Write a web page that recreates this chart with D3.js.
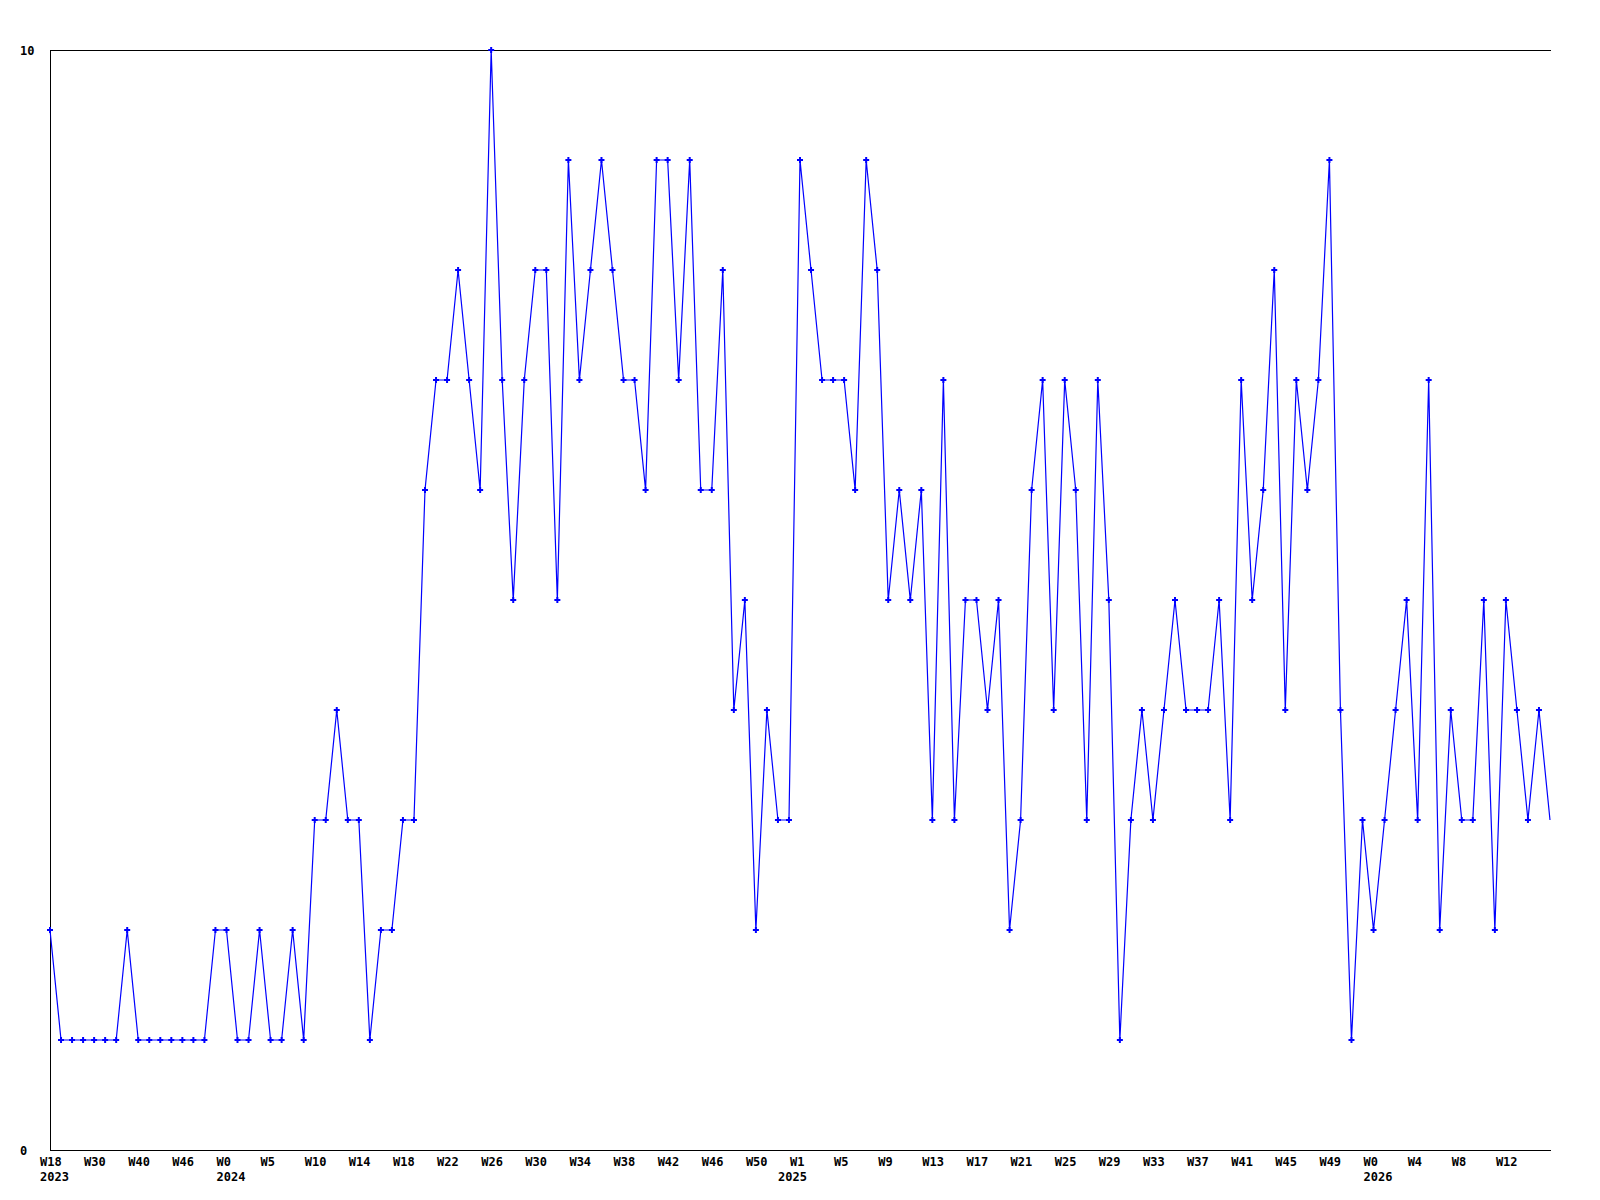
<!DOCTYPE html>
<html>
<head>
<meta charset="utf-8">
<script src="https://cdn.jsdelivr.net/npm/d3@7"></script>
<style>
  html, body { margin: 0; padding: 0; background: #fff; }
  svg { display: block; }
  text { font-family: "DejaVu Sans Mono", "Liberation Mono", monospace; font-weight: bold; font-size: 12px; fill: #000; }
</style>
</head>
<body>
<svg id="chart" width="1600" height="1200"></svg>
<script>
// Weekly values, one per point (137 points)
const values = [
  2, 1, 1, 1, 1, 1, 1, 2, 1, 1, 1, 1, 1, 1, 1, 2, 2, 1, 1, 2,
  1, 1, 2, 1, 3, 3, 4, 3, 3, 1, 2, 2, 3, 3, 6, 7, 7, 8, 7, 6,
  10, 7, 5, 7, 8, 8, 5, 9, 7, 8, 9, 8, 7, 7, 6, 9, 9, 7, 9, 6,
  6, 8, 4, 5, 2, 4, 3, 3, 9, 8, 7, 7, 7, 6, 9, 8, 5, 6, 5, 6,
  3, 7, 3, 5, 5, 4, 5, 2, 3, 6, 7, 4, 7, 6, 3, 7, 5, 1, 3, 4,
  3, 4, 5, 4, 4, 4, 5, 3, 7, 5, 6, 8, 4, 7, 6, 7, 9, 4, 1, 3,
  2, 3, 4, 5, 3, 7, 2, 4, 3, 3, 5, 2, 5, 4, 3, 4, 3
];

// X tick labels: one every 4 points
const tickIndex = [0, 4, 8, 12, 16, 20, 24, 28, 32, 36, 40, 44, 48, 52, 56, 60, 64,
  68, 72, 76, 80, 84, 88, 92, 96, 100, 104, 108, 112, 116, 120, 124, 128, 132];
const tickWeeks = ["W18", "W30", "W40", "W46", "W0", "W5", "W10", "W14", "W18", "W22", "W26",
  "W30", "W34", "W38", "W42", "W46", "W50", "W1", "W5", "W9", "W13", "W17", "W21", "W25",
  "W29", "W33", "W37", "W41", "W45", "W49", "W0", "W4", "W8", "W12"];
const tickYears = ["2023", "", "", "", "2024", "", "", "", "", "", "", "", "", "", "", "", "",
  "2025", "", "", "", "", "", "", "", "", "", "", "", "", "2026", "", "", ""];

const yTicks = [0, 10];

const svg = d3.select("#chart");
const mLeft = 50, mRight = 1551, mTop = 50, mBottom = 1150;
const FONT = "'DejaVu Sans Mono', monospace";

const x = d3.scaleLinear().domain([0, values.length - 1]).range([mLeft, 1550]);
const y = d3.scaleLinear().domain([0, 10]).range([mBottom, mTop]);

// Axis frame lines
svg.append("line").attr("x1", mLeft + 0.5).attr("x2", mLeft + 0.5).attr("y1", mTop).attr("y2", mBottom)
  .attr("stroke", "#000").attr("stroke-width", 1).attr("shape-rendering", "crispEdges");
svg.append("line").attr("x1", mLeft).attr("x2", mRight).attr("y1", mTop + 0.5).attr("y2", mTop + 0.5)
  .attr("stroke", "#000").attr("stroke-width", 1).attr("shape-rendering", "crispEdges");

// Bottom axis
const xAxis = d3.axisBottom(x)
  .tickValues(tickIndex)
  .tickSize(0)
  .tickFormat((d, i) => tickWeeks[i]);
const gx = svg.append("g").attr("transform", `translate(0,${mBottom})`).call(xAxis);
gx.select(".domain").attr("d", `M${mLeft},0.5H${mRight}`).attr("stroke", "#000").attr("shape-rendering", "crispEdges");
gx.selectAll(".tick text")
  .attr("text-anchor", "start")
  .attr("x", -10.5)
  .attr("y", 16)
  .attr("dy", null)
  .style("font-family", FONT)
  .style("font-weight", "bold")
  .style("font-size", "12px");
gx.selectAll(".tick").each(function(d, i) {
  if (tickYears[i]) {
    // the 2025 year label sits further left in the reference
    const dx = tickYears[i] === "2025" ? -22.5 : -10.5;
    d3.select(this).append("text")
      .attr("fill", "#000")
      .attr("text-anchor", "start")
      .attr("x", dx)
      .attr("y", 31)
      .style("font-family", FONT)
      .style("font-weight", "bold")
      .style("font-size", "12px")
      .text(tickYears[i]);
  }
});

// Left axis labels (0 and 10)
const yAxis = d3.axisLeft(y).tickValues(yTicks).tickSize(0).tickFormat(d3.format("d"));
const gy = svg.append("g").attr("transform", `translate(${mLeft},0)`).call(yAxis);
gy.select(".domain").remove();
gy.selectAll(".tick text")
  .attr("text-anchor", "start")
  .attr("x", -30)
  .attr("dy", "0.35em")
  .style("font-family", FONT)
  .style("font-weight", "bold")
  .style("font-size", "12px");

// Line
const line = d3.line().x((d, i) => x(i)).y(d => y(d));
svg.append("path")
  .datum(values)
  .attr("d", line)
  .attr("fill", "none")
  .attr("stroke", "#0000ff")
  .attr("stroke-width", 1.2);

// Markers (last point sits on the right edge without a marker)
const cross = d3.symbol().type(d3.symbolCross).size(20);
svg.append("g").selectAll("path")
  .data(values.slice(0, values.length - 1))
  .join("path")
  .attr("transform", (d, i) => `translate(${x(i)},${y(d)})`)
  .attr("d", cross)
  .attr("fill", "#0000ff");
</script>
</body>
</html>
